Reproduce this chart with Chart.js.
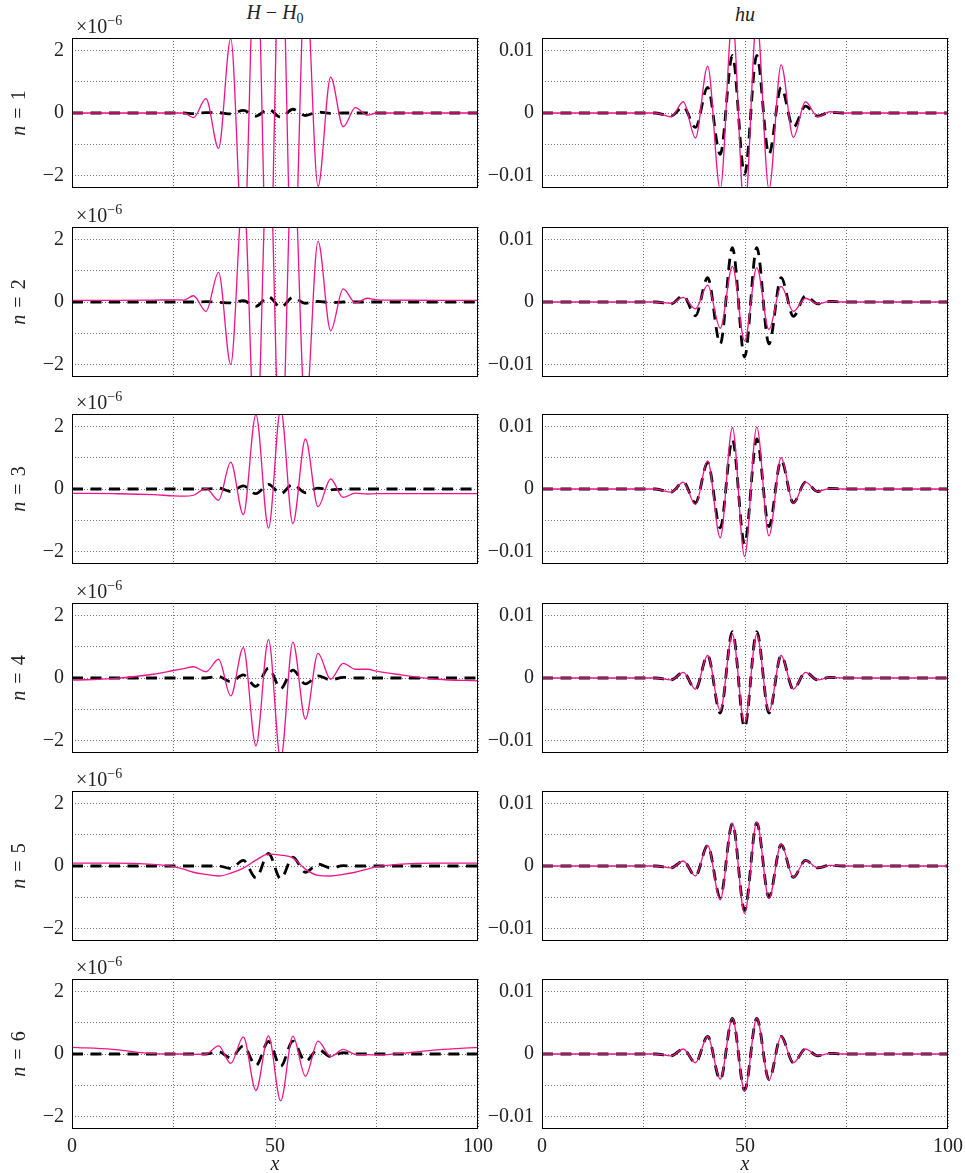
<!DOCTYPE html>
<html>
<head>
<meta charset="utf-8">
<script src="https://cdn.jsdelivr.net/npm/chart.js@4.4.1/dist/chart.umd.min.js"></script>
<style>
  html, body { margin: 0; padding: 0; background: #fff; }
  body { position: relative; width: 965px; height: 1173px; overflow: hidden;
         font-family: 'Liberation Serif', serif; color: #222; }
  canvas { position: absolute; }
  .lab { position: absolute; font-size: 20px; line-height: 20px; white-space: nowrap; }
  .lab sub { font-size: 14px; line-height: 0; vertical-align: -4px; }
  .lab sup { font-size: 14px; line-height: 0; vertical-align: 8px; }
  .rowlab { position: absolute; font-size: 20px; line-height: 20px; white-space: nowrap;
            transform: translate(-50%, -50%) rotate(-90deg); word-spacing: 2px; }
</style>
</head>
<body>
<script>
// x positions used for the H - H0 column (x in metres, values in units of 1e-6)
const hX = [0, 10, 20, 25, 27.5, 29.9, 33, 36.1, 39.1, 42.2, 45.3, 48.4, 51.4, 54.4, 57.5, 60.6, 63.7, 66.8, 69.8, 72.8, 75, 80, 90, 100];

const r1hP = [0, 0, 0, 0, 0, -0.15, 0.46, -1.13, 2.38, -4.5, 6, -6.5, 6.5, -6, 4.5, -2.35, 1.15, -0.44, 0.17, -0.07, 0, 0, 0, 0];
const r1hB = [0, 0, 0, 0, 0, -0.02, 0.01, 0.01, -0.03, 0.085, -0.1, 0.12, -0.13, 0.12, -0.08, 0.03, -0.01, 0, 0, 0, 0, 0, 0, 0];
const r2hP = [0.05, 0.05, 0.06, 0.07, 0.06, 0.2, -0.3, 0.95, -2.0, 3.6, -5, 5.5, -5.5, 5, -3.6, 1.95, -0.92, 0.42, -0.03, 0.12, 0.07, 0.06, 0.05, 0.05];
const r2hB = [0, 0, 0, 0, 0, 0, 0.01, -0.01, -0.03, 0.04, -0.14, 0.17, -0.17, 0.15, -0.04, 0.02, -0.02, 0, 0, 0, 0, 0, 0, 0];
const r3hP = [-0.14, -0.15, -0.18, -0.22, -0.23, -0.2, 0.02, -0.36, 0.86, -0.82, 2.38, -1.25, 2.55, -1.11, 1.6, -0.57, 0.32, -0.27, -0.13, -0.16, -0.15, -0.15, -0.15, -0.15];
const r3hB = [0, 0, 0, 0, 0, 0, 0, 0.03, -0.08, 0.1, -0.15, 0.15, -0.15, 0.15, -0.12, 0.03, -0.03, 0, 0, 0, 0, 0, 0, 0];
const r4hP = [-0.07, -0.02, 0.12, 0.24, 0.3, 0.36, 0.2, 0.6, -0.57, 0.97, -2.17, 1.23, -2.6, 1.15, -1.32, 0.79, -0.04, 0.47, 0.28, 0.28, 0.22, 0.12, -0.04, -0.09];
const r4hB = [0, 0, 0, 0, 0, 0, 0, 0.05, -0.12, 0.1, -0.27, 0.32, -0.34, 0.25, -0.19, 0.07, -0.06, 0.02, 0, 0, 0, 0, 0, 0];
const r5hP = [0.09, 0.09, 0.05, -0.02, -0.1, -0.2, -0.27, -0.32, -0.23, -0.07, 0.19, 0.38, 0.35, 0.26, -0.1, -0.3, -0.32, -0.27, -0.2, -0.1, -0.02, 0.05, 0.09, 0.09];
const r5hB = [0, 0, 0, 0, 0, 0, 0, 0, -0.08, 0.18, -0.38, 0.4, -0.41, 0.28, -0.2, 0.06, -0.06, 0.01, 0, 0, 0, 0, 0, 0];
const r6hP = [0.21, 0.15, 0.01, 0, 0, -0.01, 0, 0.26, -0.3, 0.55, -1.17, 0.58, -1.5, 0.57, -0.71, 0.41, -0.08, 0.15, -0.01, -0.02, -0.03, 0.01, 0.13, 0.21];
const r6hB = [0, 0, 0, 0, 0, 0, 0, 0.07, -0.12, 0.26, -0.37, 0.4, -0.4, 0.41, -0.24, 0.15, -0.08, 0.04, 0, 0, 0, 0, 0, 0];

// x positions used for the hu column
const huX = [0, 28, 31.8, 34.8, 37.8, 40.8, 43.9, 46.9, 49.9, 52.9, 55.9, 58.9, 61.9, 64.9, 67.9, 70.9, 74, 100];

const r1uP = [0, 0, -0.0006, 0.0018, -0.004, 0.0075, -0.0122, 0.015, -0.016, 0.015, -0.0122, 0.0077, -0.0039, 0.0018, -0.0006, 0.0002, 0, 0];
const r1uB = [0, 0, -0.0005, 0.001, -0.0023, 0.0041, -0.0066, 0.0092, -0.0098, 0.0092, -0.0066, 0.0041, -0.0023, 0.0011, -0.0005, 0.0001, 0, 0];
const r2uP = [0, 0, -0.0002, 0.00075, -0.0011, 0.0027, -0.0042, 0.0057, -0.0062, 0.0055, -0.0044, 0.0025, -0.0015, 0.0006, -0.0003, 0.0001, 0, 0];
const r2uB = [0, 0, -0.0003, 0.001, -0.0022, 0.0039, -0.0067, 0.0087, -0.0088, 0.0087, -0.0067, 0.0039, -0.0023, 0.001, -0.0003, 0.0001, 0, 0];
const r3uP = [0, 0, -0.0005, 0.0011, -0.0025, 0.0045, -0.0078, 0.0098, -0.0108, 0.0099, -0.0075, 0.005, -0.0023, 0.0011, -0.0004, 0.0001, 0, 0];
const r3uB = [0, 0, -0.0005, 0.0011, -0.0022, 0.0042, -0.0062, 0.0079, -0.0088, 0.008, -0.006, 0.0046, -0.0022, 0.0011, -0.0004, 0.0001, 0, 0];
const r4uP = [0, 0, -0.0003, 0.0009, -0.0018, 0.0036, -0.0052, 0.007, -0.0073, 0.007, -0.0053, 0.0036, -0.0018, 0.0009, -0.0003, 0.0001, 0, 0];
const r4uB = [0, 0, -0.0003, 0.0009, -0.0018, 0.0036, -0.0056, 0.0074, -0.0079, 0.0074, -0.0056, 0.0036, -0.0018, 0.0009, -0.0003, 0.0001, 0, 0];
const r5uP = [0, 0, -0.0003, 0.0008, -0.0016, 0.0033, -0.0054, 0.0069, -0.0076, 0.007, -0.0052, 0.0035, -0.0018, 0.0009, -0.0003, 0.0001, 0, 0];
const r5uB = [0, 0, -0.0003, 0.0008, -0.0016, 0.0033, -0.005, 0.0068, -0.0071, 0.0069, -0.005, 0.0034, -0.0018, 0.0009, -0.0003, 0.0001, 0, 0];
const r6uP = [0, 0, -0.0003, 0.0008, -0.0014, 0.0028, -0.004, 0.0057, -0.0059, 0.0057, -0.0042, 0.0028, -0.0014, 0.0008, -0.0003, 0.0001, 0, 0];
const r6uB = [0, 0, -0.0003, 0.0008, -0.0014, 0.0028, -0.0041, 0.0057, -0.0058, 0.0057, -0.0041, 0.0028, -0.0014, 0.0008, -0.0003, 0.0001, 0, 0];

// axis ticks
const xTicks = [0, 25, 50, 75, 100];
const hTicks = [-2, -1, 0, 1, 2];
const uTicks = [-0.01, -0.005, 0, 0.005, 0.01];
const hLabels = {'-2': '\u22122', '0': '0', '2': '2'};
const uLabels = {'-0.01': '\u22120.01', '0': '0', '0.01': '0.01'};

const hRows = [[r1hP, r1hB], [r2hP, r2hB], [r3hP, r3hB], [r4hP, r4hB], [r5hP, r5hB], [r6hP, r6hB]];
const uRows = [[r1uP, r1uB], [r2uP, r2uB], [r3uP, r3uB], [r4uP, r4uB], [r5uP, r5uB], [r6uP, r6uB]];

// layout
const plotTops = [38, 227, 414, 603, 791, 979];
const plotLefts = [72, 542];
const PLOT_W = 406, PLOT_H = 150;
const PAD_L = 72, PAD_T = 10, PAD_B = 40;
const padRight = [24, 17];

const pink = '#f0148c';
const gridCol = 'rgba(0,0,0,0.55)';

Chart.defaults.font.family = "'Liberation Serif', serif";
Chart.defaults.font.size = 20;
Chart.defaults.color = '#222';

// black frame round each plot area
const frame = {
  id: 'frame',
  afterDraw(chart) {
    const {ctx, chartArea: a} = chart;
    ctx.save();
    ctx.strokeStyle = '#000';
    ctx.lineWidth = 1;
    ctx.strokeRect(a.left + 0.5, a.top + 0.5, a.right - a.left - 1, a.bottom - a.top - 1);
    ctx.restore();
  }
};

const pts = (xs, ys) => xs.map((x, i) => ({x: x, y: ys[i]}));

function makePanel(row, col) {
  const isH = col === 0;
  const xs = isH ? hX : huX;
  const [pinkY, blackY] = isH ? hRows[row] : uRows[row];
  const lim = isH ? 2.4 : 0.012;
  const yTicks = isH ? hTicks : uTicks;
  const yLabels = isH ? hLabels : uLabels;
  const bottom = row === 5;

  const w = PAD_L + PLOT_W + padRight[col];
  const h = PAD_T + PLOT_H + PAD_B;
  const cv = document.createElement('canvas');
  cv.width = w; cv.height = h;
  cv.style.width = w + 'px'; cv.style.height = h + 'px';
  cv.style.left = (plotLefts[col] - PAD_L) + 'px';
  cv.style.top = (plotTops[row] - PAD_T) + 'px';
  document.body.appendChild(cv);

  new Chart(cv, {
    type: 'line',
    data: {
      datasets: [
        {data: pts(xs, pinkY), borderColor: pink, borderWidth: 1.3,
         cubicInterpolationMode: 'monotone', pointRadius: 0, clip: 0},
        {data: pts(xs, blackY), borderColor: '#000', borderWidth: 2.8, borderDash: [11, 7.5],
         cubicInterpolationMode: 'monotone', pointRadius: 0, clip: 0}
      ]
    },
    options: {
      responsive: false,
      animation: false,
      events: [],
      devicePixelRatio: 1,
      layout: {padding: {top: PAD_T, right: padRight[col], left: 0, bottom: 0}},
      plugins: {legend: {display: false}, tooltip: {enabled: false}},
      scales: {
        x: {
          type: 'linear', min: 0, max: 100,
          afterBuildTicks: s => { s.ticks = xTicks.map(v => ({value: v})); },
          afterFit: s => { s.height = PAD_B; s.paddingLeft = 0; s.paddingRight = 0; },
          grid: {color: gridCol, lineWidth: 1, drawTicks: false},
          border: {display: false, dash: [1, 2]},
          ticks: {padding: 6, maxRotation: 0, autoSkip: false,
                  callback: v => (bottom && v % 50 === 0) ? String(v) : ''}
        },
        y: {
          type: 'linear', min: -lim, max: lim,
          afterBuildTicks: s => { s.ticks = yTicks.map(v => ({value: v})); },
          afterFit: s => { s.width = PAD_L; s.paddingTop = 0; s.paddingBottom = 0; },
          grid: {color: gridCol, lineWidth: 1, drawTicks: false},
          border: {display: false, dash: [1, 2]},
          ticks: {padding: 8, autoSkip: false,
                  callback: v => yLabels[String(v)] || ''}
        }
      }
    },
    plugins: [frame]
  });
}

for (let r = 0; r < 6; r++) {
  makePanel(r, 0);
  makePanel(r, 1);
}

// text labels
function addLabel(html, cls, left, top, centre) {
  const d = document.createElement('div');
  d.className = cls;
  d.innerHTML = html;
  d.style.left = left + 'px';
  d.style.top = top + 'px';
  if (centre) d.style.transform = 'translateX(-50%)';
  document.body.appendChild(d);
}

addLabel('<i>H</i> \u2212 <i>H</i><sub>0</sub>', 'lab', 275, 2, true);
addLabel('<i>hu</i>', 'lab', 745, 4, true);
plotTops.forEach((t, i) => {
  addLabel('\u00d710<sup>\u22126</sup>', 'lab', 76, t - 22, false);
  addLabel('<i>n</i> = ' + (i + 1), 'rowlab', 18, t + PLOT_H / 2, false);
});
addLabel('<i>x</i>', 'lab', 275, 1153, true);
addLabel('<i>x</i>', 'lab', 745, 1153, true);
</script>
</body>
</html>
